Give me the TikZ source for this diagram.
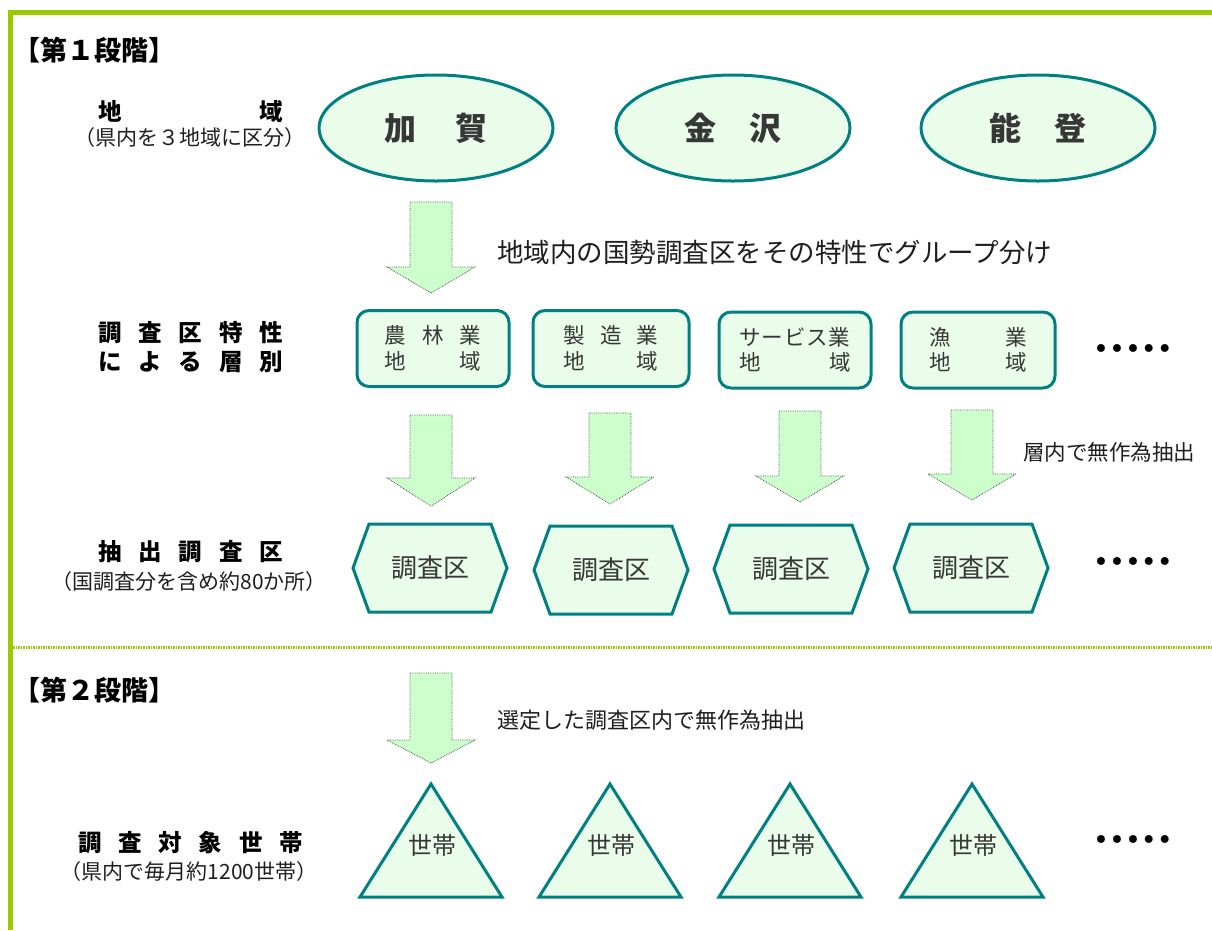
\documentclass[tikz,border=0pt]{standalone}
\usepackage{fontspec}
\setmainfont{Noto Sans CJK JP}
\newfontfamily\dejavu{DejaVu Sans}
\usetikzlibrary{shapes.geometric}
\definecolor{frameg}{RGB}{153,204,0}
\definecolor{tealc}{RGB}{0,128,128}
\definecolor{mint}{RGB}{234,252,234}
\definecolor{arrowg}{RGB}{204,255,204}
\definecolor{txtc}{RGB}{30,30,30}
\definecolor{boxtxt}{RGB}{55,55,55}
\newcommand\myfs[1]{\fontsize{#1}{#1}\selectfont}
\newcommand\barrow[4]{%
  \draw[barr] (#1-21,#2) -- (#1+21,#2) -- (#1+21,#3) -- (#1+44,#3) -- (#1,#4) -- (#1-44,#3) -- (#1-21,#3) -- cycle;}
\newcommand\hexa[3]{%
  \draw[shp] (#1-77,#2) -- (#1-61,#2-44) -- (#1+61,#2-44) -- (#1+77,#2) -- (#1+61,#2+44) -- (#1-61,#2+44) -- cycle;
  \node[hextxt] (#3) at (#1,#2) {調査区};}
\newcommand\tria[2]{%
  \draw[shp] (#1,784) -- (#1+71,897) -- (#1-71,897) -- cycle;
  \node[tritxt] (#2) at (#1+1,845) {世帯};}
\tikzset{
  shp/.style={draw=tealc, line width=3pt, fill=mint, line join=miter},
  ell/.style={ellipse, draw=tealc, line width=3pt, fill=mint, minimum width=234, minimum height=106, inner sep=0, text=boxtxt, font=\myfs{32}\bfseries},
  rbox/.style={rectangle, rounded corners=12, draw=tealc, line width=3pt, fill=mint, minimum width=152, minimum height=76, inner sep=0, text=boxtxt, font=\myfs{21.5}, align=center},
  barr/.style={fill=arrowg, draw=black!65, densely dotted, line width=0.8pt},
  hextxt/.style={inner sep=0, text=boxtxt, font=\myfs{26}},
  tritxt/.style={inner sep=0, text=boxtxt, font=\myfs{24}},
  head/.style={anchor=west, inner sep=0, text=black, font=\myfs{27}\bfseries},
  lab/.style={inner sep=0, text=black, font=\myfs{23.5}\bfseries},
  sub/.style={inner sep=0, text=txtc, font=\myfs{21}},
  note/.style={anchor=west, inner sep=0, text=txtc},
  dots/.style={inner sep=0, text=black, font=\dejavu\myfs{27}}
}
\begin{document}
\begin{tikzpicture}[x=1pt,y=-1pt]
\useasboundingbox (0,0) rectangle (1212,930);
% frame
\draw[frameg, line width=5pt] (8,12.5) -- (1212,12.5);
\draw[frameg, line width=5pt] (10.5,10) -- (10.5,930);
\draw[frameg, line width=3pt, dash pattern=on 1.5pt off 1pt] (13,647.5) -- (1212,647.5);
% headings
\node[head] (h1) at (13,50) {【第１段階】};
\node[head] (h2) at (13,690) {【第２段階】};
% left labels
\node[lab] (l1) at (190.5,112) {\makebox[185pt][s]{地\hfill 域}};
\node[sub] (l1s) at (190,138) {（県内を３地域に区分）};
\node[lab] (l2a) at (190.5,333) {\makebox[185pt][s]{調\hfill 査\hfill 区\hfill 特\hfill 性}};
\node[lab] (l2b) at (190.5,362) {\makebox[185pt][s]{に\hfill よ\hfill る\hfill 層\hfill 別}};
\node[lab] (l3) at (190.5,552) {\makebox[185pt][s]{抽\hfill 出\hfill 調\hfill 査\hfill 区}};
\node[sub] (l3s) at (189,582) {（国調査分を含め約80か所）};
\node[lab] (l4) at (190.5,843) {\makebox[225pt][s]{調\hfill 査\hfill 対\hfill 象\hfill 世\hfill 帯}};
\node[sub] (l4s) at (189,872) {（県内で毎月約1200世帯）};
% ellipses
\node[ell] (kaga) at (436,128) {\makebox[103pt][s]{加\hfill 賀}};
\node[ell] (kanazawa) at (733,128) {\makebox[97pt][s]{金\hfill 沢}};
\node[ell] (noto) at (1038,128) {\makebox[97pt][s]{能\hfill 登}};
% arrow 1
\barrow{431}{202}{267}{293}
\node[note, font=\myfs{26.5}] (t1) at (497,252) {地域内の国勢調査区をその特性でグループ分け};
% boxes
\node[rbox] (b1) at (433,348.5) {\makebox[97pt][s]{農\hfill 林\hfill 業}\\[4pt]\makebox[97pt][s]{地\hfill 域}};
\node[rbox, minimum width=156] (b2) at (611,348.5) {\makebox[95pt][s]{製\hfill 造\hfill 業}\\[4pt]\makebox[95pt][s]{地\hfill 域}};
\node[rbox] (b3) at (795,350) {\makebox[111pt][s]{サ\hfill ー\hfill ビ\hfill ス\hfill 業}\\[4pt]\makebox[111pt][s]{地\hfill 域}};
\node[rbox, minimum width=154] (b4) at (978,350) {\makebox[98pt][s]{漁\hfill 業}\\[4pt]\makebox[98pt][s]{地\hfill 域}};
\node[dots] (d1) at (1133,352) {•••••};
% arrows row 2
\barrow{431}{415}{478}{506}
\barrow{610}{413}{477}{504}
\barrow{800}{411}{476}{502}
\barrow{972}{410}{474}{500}
\node[note, font=\myfs{21.5}] (t2) at (1023,452) {層内で無作為抽出};
% hexagons
\hexa{430}{568}{x1}
\hexa{611}{570}{x2}
\hexa{791}{569}{x3}
\hexa{971}{568}{x4}
\node[dots] (d2) at (1133,565) {•••••};
% stage 2 arrow
\barrow{431}{673}{740}{763}
\node[note, font=\myfs{22}] (t3) at (497,720) {選定した調査区内で無作為抽出};
% triangles
\tria{431}{s1}
\tria{610}{s2}
\tria{790}{s3}
\tria{972}{s4}
\node[dots] (d3) at (1133,843) {•••••};
\end{tikzpicture}
\end{document}
